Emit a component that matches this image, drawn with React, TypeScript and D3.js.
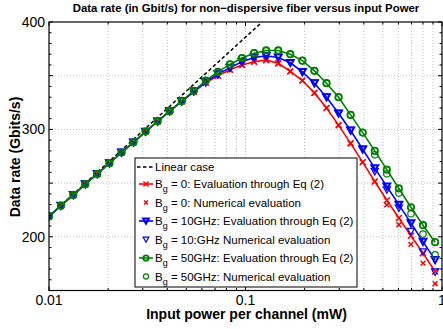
import React from 'react';
import * as d3 from 'd3';

// ---------- data ----------
const power = [
  0.0100, 0.0115, 0.0133, 0.0153, 0.0176, 0.0203, 0.0234, 0.0269, 0.0310, 0.0357,
  0.0411, 0.0474, 0.0546, 0.0628, 0.0724, 0.0834, 0.0960, 0.1106, 0.1274, 0.1468,
  0.1690, 0.1948, 0.2243, 0.2584, 0.2976, 0.3428, 0.3948, 0.4548, 0.5238, 0.6034,
  0.6950, 0.8006, 0.9222,
];

const linearX = [0.01, 0.1215];
const linearY = [219, 400];

const bg0Eq = [
  219, 229, 239, 249, 258.5, 268.5, 278.5, 288, 298, 307.5,
  317, 326, 335, 343.5, 350, 355.5, 360, 363, 364.5, 361.5,
  354, 345.5, 334, 320, 304, 287, 269.5, 251.5, 234, 217.5,
  201, 184.8, 167.7,
];
const bg0Num = [
  219, 229, 239, 249, 258.5, 268.5, 278.5, 288, 298, 307.5,
  317, 326, 335, 343.5, 350, 355.5, 360, 363, 364.5, 361.5,
  354, 345.5, 334, 320, 304, 287, 269.5, 251.5, 229.8, 211.2,
  193, 175.5, 156.3,
];
const bg10Eq = [
  219, 229, 239, 249, 258.5, 268.5, 278.5, 288, 298, 307.5,
  317, 326.2, 335.5, 344, 351.5, 357.5, 363, 367, 368.5, 367,
  362, 353.5, 343, 330, 315, 299, 281.5, 264, 247, 230,
  212.7, 195.5, 178.5,
];
const bg10Num = [
  219, 229, 239, 249, 258.5, 268.5, 278.5, 288, 298, 307.5,
  317, 326.2, 335.5, 344, 351.5, 357.5, 363, 367, 368.5, 367,
  362, 353.5, 343, 330, 315, 299, 281.5, 260.7, 243.7, 226.7,
  205, 186, 167.2,
];
const bg50Eq = [
  219, 229, 239, 249, 258.5, 268.5, 278.5, 288, 298, 307.5,
  317, 326.5, 336, 345.5, 353.5, 360.5, 366.5, 371, 373.5, 373.5,
  370, 364, 354.5, 343, 330, 313.5, 297, 280, 262.5, 245,
  227.5, 210.8, 195,
];
const bg50Num = [
  219, 229, 239, 249, 258.5, 268.5, 278.5, 288, 298, 307.5,
  317, 326.5, 336, 345.5, 353.5, 360.5, 366.5, 371, 373.5, 373.5,
  370, 364, 354.5, 343, 330, 313.5, 297, 276.3, 258.6, 240.7,
  221.4, 202.5, 183.3,
];

const xMajorTicks = [0.01, 0.1, 1];
const xTickLabels = ['0.01', '0.1', '1'];
const yTicksLabelled = [200, 300, 400];
const yTickLabels = ['200', '300', '400'];

const titleText = 'Data rate (in Gbit/s) for non\u2212dispersive fiber versus input Power';
const xLabelText = 'Input power per channel (mW)';
const yLabelText = 'Data rate (Gbits/s)';

const legendLabels = [
  ' = 0: Evaluation through Eq (2)',
  ' = 0: Numerical evaluation',
  ' = 10GHz: Evaluation through Eq (2)',
  ' = 10:GHz Numerical evaluation',
  ' = 50GHz: Evaluation through Eq (2)',
  ' = 50GHz: Numerical evaluation',
];

// ---------- layout ----------
const W = 443;
const H = 329;
const L = 49;
const R = 442;
const T = 22;
const B = 290.5;
const FONT = '"Liberation Sans", Arial, Helvetica, sans-serif';

const RED = '#ff0000';
const BLUE = '#0000ff';
const GREEN = '#008000';

type MarkerKind = 'x' | 'v' | 'o';

function Marker({ kind, x, y, color, size, sw }: { kind: MarkerKind; x: number; y: number; color: string; size: number; sw: number }) {
  if (kind === 'x') {
    const s = size;
    return (
      <path
        d={`M${x - s},${y - s}L${x + s},${y + s}M${x - s},${y + s}L${x + s},${y - s}`}
        stroke={color}
        strokeWidth={sw}
        fill="none"
      />
    );
  }
  if (kind === 'v') {
    const s = size;
    return (
      <path
        d={`M${x - s},${y - s * 0.85}L${x + s},${y - s * 0.85}L${x},${y + s * 0.95}Z`}
        stroke={color}
        strokeWidth={sw}
        fill="none"
        strokeLinejoin="miter"
      />
    );
  }
  return <circle cx={x} cy={y} r={size} stroke={color} strokeWidth={sw} fill="none" />;
}

export default function App() {
  const x = d3.scaleLog().domain([0.01, 1]).range([L, R]);
  const y = d3.scaleLinear().domain([150, 400]).range([B, T]);

  const line = d3
    .line<[number, number]>()
    .x((d) => x(d[0]))
    .y((d) => y(d[1]));

  const pts = (vals: number[]) => power.map((p, i) => [p, vals[i]] as [number, number]);

  // minor x ticks
  const xMinor: number[] = [];
  [0.01, 0.1].forEach((dec) => {
    for (let m = 2; m <= 9; m++) xMinor.push(dec * m);
  });
  const yGrid = d3.range(200, 400, 50);
  const yMinor = d3.range(150, 401, 10);

  const series = [
    { vals: bg0Eq, color: RED, kind: 'x' as MarkerKind, line: true, size: 3, sw: 1.5 },
    { vals: bg0Num, color: RED, kind: 'x' as MarkerKind, line: false, size: 2.4, sw: 1.5 },
    { vals: bg10Eq, color: BLUE, kind: 'v' as MarkerKind, line: true, size: 3.4, sw: 2 },
    { vals: bg10Num, color: BLUE, kind: 'v' as MarkerKind, line: false, size: 3.6, sw: 1.2 },
    { vals: bg50Eq, color: GREEN, kind: 'o' as MarkerKind, line: true, size: 3.2, sw: 1.8 },
    { vals: bg50Num, color: GREEN, kind: 'o' as MarkerKind, line: false, size: 3.2, sw: 1.2 },
  ];

  // legend geometry
  const LX = 135;
  const LY = 158;
  const LW = 222;
  const LH = 129;
  const rowY0 = 167;
  const rowYs = [184, 202.5, 221, 239.5, 258, 276.5];
  const sampleX1 = 139;
  const sampleX2 = 153;
  const sampleMid = 146;
  const textX = 155;

  return (
    <svg
      width={W}
      height={H}
      viewBox={`0 0 ${W} ${H}`}
      style={{ position: 'absolute', left: 0, top: 0, background: '#fff' }}
      fontFamily={FONT}
    >
      <defs>
        <clipPath id="plotClip">
          <rect x={L} y={T} width={R - L} height={B - T} />
        </clipPath>
      </defs>
      <rect x={0} y={0} width={W} height={H} fill="#fff" />

      {/* grid */}
      <g stroke="#b0b0b0" strokeWidth={0.8} strokeDasharray="1 2">
        {[...xMinor, 0.1].map((v, i) => (
          <line key={`gx${i}`} x1={x(v)} x2={x(v)} y1={T} y2={B} />
        ))}
        {yGrid.map((v, i) => (
          <line key={`gy${i}`} x1={L} x2={R} y1={y(v)} y2={y(v)} />
        ))}
      </g>

      {/* data */}
      <g clipPath="url(#plotClip)">
        <path
          d={line([[linearX[0], linearY[0]], [linearX[1], linearY[1]]]) || ''}
          stroke="#000"
          strokeWidth={1.5}
          strokeDasharray="3.5 2.5"
          fill="none"
        />
        {series.map((s, si) => (
          <g key={`s${si}`}>
            {s.line && (
              <path d={line(pts(s.vals)) || ''} stroke={s.color} strokeWidth={1.6} fill="none" />
            )}
            {pts(s.vals).map((d, i) => (
              <Marker key={i} kind={s.kind} x={x(d[0])} y={y(d[1])} color={s.color} size={s.size} sw={s.sw} />
            ))}
          </g>
        ))}
      </g>

      {/* axes box */}
      <rect x={L} y={T} width={R - L} height={B - T} fill="none" stroke="#000" strokeWidth={1.2} />

      {/* x ticks */}
      <g stroke="#000" strokeWidth={1}>
        {xMajorTicks.map((v, i) => (
          <g key={`xm${i}`}>
            <line x1={x(v)} x2={x(v)} y1={B} y2={B - 4} />
            <line x1={x(v)} x2={x(v)} y1={T} y2={T + 4} />
          </g>
        ))}
        {xMinor.map((v, i) => (
          <g key={`xn${i}`}>
            <line x1={x(v)} x2={x(v)} y1={B} y2={B - 2.5} />
            <line x1={x(v)} x2={x(v)} y1={T} y2={T + 2.5} />
          </g>
        ))}
        {yMinor.map((v, i) => {
          const len = v % 50 === 0 ? 4 : 2.5;
          return (
            <g key={`yn${i}`}>
              <line x1={L} x2={L + len} y1={y(v)} y2={y(v)} />
              <line x1={R} x2={R - len} y1={y(v)} y2={y(v)} />
            </g>
          );
        })}
      </g>

      {/* tick labels */}
      <g fontSize={14} fill="#000">
        {xMajorTicks.map((v, i) => (
          <text key={`xl${i}`} x={x(v)} y={305} textAnchor="middle">
            {xTickLabels[i]}
          </text>
        ))}
        {yTicksLabelled.map((v, i) => (
          <text key={`yl${i}`} x={L - 4} y={y(v)} dy="0.36em" textAnchor="end">
            {yTickLabels[i]}
          </text>
        ))}
      </g>

      {/* titles */}
      <text x={246} y={12} textAnchor="middle" fontSize={11.4} fontWeight="bold">
        {titleText}
      </text>
      <text x={246.5} y={319} textAnchor="middle" fontSize={14} fontWeight="bold">
        {xLabelText}
      </text>
      <text
        transform={`translate(19.5,157) rotate(-90)`}
        textAnchor="middle"
        fontSize={14}
        fontWeight="bold"
      >
        {yLabelText}
      </text>

      {/* legend */}
      <g>
        <rect x={LX} y={LY} width={LW} height={LH} fill="#fff" stroke="#000" strokeWidth={1} />
        <line x1={sampleX1 - 2} x2={sampleX2} y1={rowY0} y2={rowY0} stroke="#000" strokeWidth={1.5} strokeDasharray="3.5 2.5" />
        <text x={textX} y={rowY0} dy="0.36em" fontSize={11.5}>
          Linear case
        </text>
        {series.map((s, i) => {
          const ry = rowYs[i];
          return (
            <g key={`lg${i}`}>
              {s.line && (
                <line x1={sampleX1} x2={sampleX2} y1={ry} y2={ry} stroke={s.color} strokeWidth={1.6} />
              )}
              <Marker kind={s.kind} x={sampleMid} y={ry} color={s.color} size={s.line ? s.size * 0.85 : s.size * 0.8} sw={s.sw} />
              <text x={textX} y={ry + 4} fontSize={11.5}>
                B
                <tspan fontSize={9} dy={4}>g</tspan>
                <tspan dy={-4}>{legendLabels[i]}</tspan>
              </text>
            </g>
          );
        })}
      </g>
    </svg>
  );
}
